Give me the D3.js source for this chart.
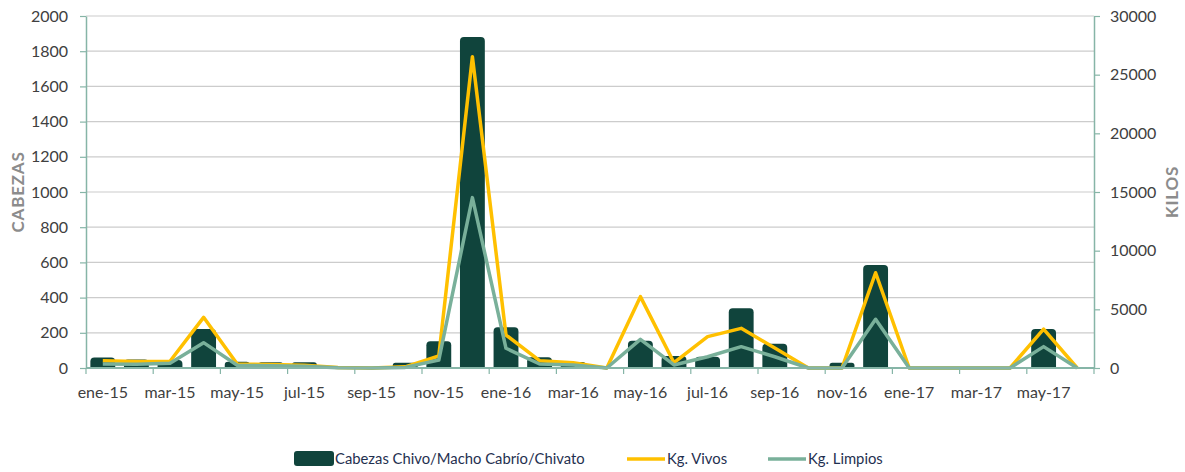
<!DOCTYPE html>
<html><head><meta charset="utf-8">
<script src="https://cdn.jsdelivr.net/npm/d3@7"></script>
<style>body{margin:0;background:#fff;font-family:Lato,"Open Sans",sans-serif;}</style>
</head><body><svg id="c" width="1185" height="472"></svg>
<script>
const months = ["ene-15","feb-15","mar-15","abr-15","may-15","jun-15","jul-15","ago-15","sep-15","oct-15","nov-15","dic-15",
 "ene-16","feb-16","mar-16","abr-16","may-16","jun-16","jul-16","ago-16","sep-16","oct-16","nov-16","dic-16",
 "ene-17","feb-17","mar-17","abr-17","may-17","jun-17"];
const cabezas = [60,49,45,221,36,33,32,0,0,30,152,1880,231,61,34,0,155,68,64,339,138,0,30,585,0,0,0,0,221,0];
const kgVivos = [620,560,580,4320,340,300,230,50,0,100,1020,26530,2810,620,450,0,6080,450,2670,3380,1700,0,0,8120,0,0,0,0,3320,0];
const kgLimpios = [340,330,400,2160,230,200,150,30,0,50,680,14520,1680,340,260,0,2440,260,960,1820,960,0,0,4150,0,0,0,0,1820,0];
const leftTicks = [0,200,400,600,800,1000,1200,1400,1600,1800,2000];
const rightTicks = [0,5000,10000,15000,20000,25000,30000];
const seriesNames = ["Cabezas Chivo/Macho Cabrío/Chivato","Kg. Vivos","Kg. Limpios"];

const C = {bar:"#10443c", vivos:"#ffc000", limpios:"#79b09a", axis:"#86b5a7", grid:"#cccccc", text:"#404040", title:"#8c8c8c", legend:"#1f3050"};
const FONT = "Lato,'Open Sans',sans-serif";
const svg = d3.select("#c");
const L=86, R=1094, T=16, B=368;
const x = d3.scaleBand().domain(months).range([L,R]).paddingInner(0.26).paddingOuter(0.13);
const xp = d3.scalePoint().domain(months).range([L+(R-L)/60, R-(R-L)/60]);
const yL = d3.scaleLinear().domain([0,2000]).range([B,T]);
const yR = d3.scaleLinear().domain([0,30000]).range([B,T]);

// grid
svg.append("g").selectAll("line").data(leftTicks.slice(1)).join("line")
  .attr("x1",L).attr("x2",R).attr("y1",d=>yL(d)).attr("y2",d=>yL(d))
  .attr("stroke",C.grid).attr("stroke-width",1.2);

// bars (rounded top)
const bw = x.bandwidth(), r = 4;
svg.append("g").selectAll("path").data(cabezas.map((v,i)=>({m:months[i],v}))).join("path")
  .filter(d=>d.v>0)
  .attr("fill",C.bar)
  .attr("d",d=>{const x0=x(d.m), y0=yL(d.v), h=B-y0, rr=Math.min(r,h/2,bw/2);
    return `M${x0},${B}V${y0+rr}Q${x0},${y0} ${x0+rr},${y0}H${x0+bw-rr}Q${x0+bw},${y0} ${x0+bw},${y0+rr}V${B}Z`;});

// lines
const line = d3.line().x((d,i)=>xp(months[i])).y(d=>yR(d));
svg.append("path").datum(kgVivos).attr("d",line).attr("fill","none").attr("stroke",C.vivos).attr("stroke-width",3.5).attr("stroke-linejoin","round");
svg.append("path").datum(kgLimpios).attr("d",line).attr("fill","none").attr("stroke",C.limpios).attr("stroke-width",3.5).attr("stroke-linejoin","round");

// axes
function styleAxis(g){g.select(".domain").attr("stroke",C.axis).attr("stroke-width",1.5);
  g.selectAll(".tick line").attr("stroke",C.axis).attr("stroke-width",1.2);
  g.selectAll("text").attr("fill",C.text).style("font-size","16px").style("font-family",FONT);}
svg.append("g").attr("transform",`translate(${L},0)`)
  .call(d3.axisLeft(yL).tickValues(leftTicks).tickFormat(d3.format("d")).tickSize(6).tickPadding(12).tickSizeOuter(0)).call(styleAxis);
svg.append("g").attr("transform",`translate(${R},0)`)
  .call(d3.axisRight(yR).tickValues(rightTicks).tickFormat(d3.format("d")).tickSize(6).tickPadding(10).tickSizeOuter(0)).call(styleAxis);
// bottom axis
const gx = svg.append("g");
gx.append("line").attr("x1",L).attr("x2",R).attr("y1",B).attr("y2",B).attr("stroke",C.axis).attr("stroke-width",1.8);
const step = (R-L)/months.length;
gx.selectAll("line.t").data(months.filter((d,i)=>i%2===0).concat(["end"])).join("line").attr("class","t")
  .attr("x1",(d,i)=>L+i*2*step).attr("x2",(d,i)=>L+i*2*step).attr("y1",B).attr("y2",B+6)
  .attr("stroke",C.axis).attr("stroke-width",1.2);
gx.selectAll("text").data(months.filter((d,i)=>i%2===0)).join("text")
  .attr("x",d=>xp(d)).attr("y",B+30).attr("text-anchor","middle")
  .attr("fill",C.text).style("font-size","16px").style("font-family",FONT).text(d=>d);

// axis titles
svg.append("text").attr("transform","translate(24,192) rotate(-90)").attr("text-anchor","middle")
  .attr("fill",C.title).style("font-size","17px").style("font-weight","bold").style("letter-spacing","0.8px").text("CABEZAS");
svg.append("text").attr("transform","translate(1178,192) rotate(-90)").attr("text-anchor","middle")
  .attr("fill",C.title).style("font-size","17px").style("font-weight","bold").style("letter-spacing","0.8px").text("KILOS");

// legend
const lg = svg.append("g").style("font-size","14.8px").style("font-family",FONT);
lg.append("rect").attr("x",294).attr("y",451).attr("width",40).attr("height",15).attr("rx",3).attr("fill",C.bar);
lg.append("text").attr("x",335).attr("y",464).attr("fill",C.legend).text(seriesNames[0]);
lg.append("line").attr("x1",627).attr("x2",665).attr("y1",459).attr("y2",459).attr("stroke",C.vivos).attr("stroke-width",3.5);
lg.append("text").attr("x",667).attr("y",464).attr("fill",C.legend).text(seriesNames[1]);
lg.append("line").attr("x1",768).attr("x2",806).attr("y1",459).attr("y2",459).attr("stroke",C.limpios).attr("stroke-width",3.5);
lg.append("text").attr("x",808).attr("y",464).attr("fill",C.legend).text(seriesNames[2]);
</script></body></html>
